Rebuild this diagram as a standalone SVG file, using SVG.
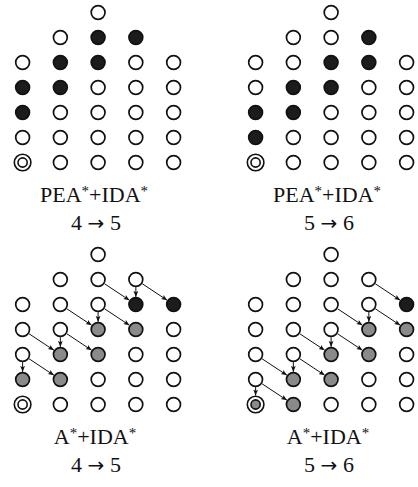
<svg xmlns="http://www.w3.org/2000/svg" width="418" height="487" viewBox="0 0 418 487">
<style>
circle{stroke:#111;stroke-width:1.7}
.w{fill:#fff}
.b{fill:#1c1c1c}
.g{fill:#8a8a8a}
.so{fill:#fff;stroke-width:1.6}
.si{fill:#fff;stroke-width:1.6}
.sig{fill:#8a8a8a;stroke-width:1.6}
.lbl{font-family:"Liberation Serif","Times New Roman",serif;font-size:22px;fill:#111}
.sup{font-size:15px}
.arr{font-family:"DejaVu Sans",sans-serif;font-size:20px}
#connectors line{stroke:#111;stroke-width:1;marker-end:url(#ah)}
</style>
<defs>
<marker id="ah" markerUnits="userSpaceOnUse" markerWidth="6" markerHeight="6" viewBox="0 0 6 6" refX="6" refY="3" orient="auto">
<path d="M0,0.6 L6,3 L0,5.4 L1.3,3 z" fill="#111"/>
</marker>
</defs>

<!-- Top-left: PEA*+IDA* 4->5 -->
<g id="pea45">
<g id="pea45-r0c2"><circle class="w" cx="98.1" cy="12.5" r="6.9"/></g>
<g id="pea45-r1c1"><circle class="w" cx="60.35" cy="37.5" r="6.9"/></g>
<g id="pea45-r1c2"><circle class="b" cx="98.1" cy="37.5" r="6.9"/></g>
<g id="pea45-r1c3"><circle class="b" cx="135.85" cy="37.5" r="6.9"/></g>
<g id="pea45-r2c0"><circle class="w" cx="22.6" cy="62.5" r="6.9"/></g>
<g id="pea45-r2c1"><circle class="b" cx="60.35" cy="62.5" r="6.9"/></g>
<g id="pea45-r2c2"><circle class="b" cx="98.1" cy="62.5" r="6.9"/></g>
<g id="pea45-r2c3"><circle class="w" cx="135.85" cy="62.5" r="6.9"/></g>
<g id="pea45-r2c4"><circle class="w" cx="173.6" cy="62.5" r="6.9"/></g>
<g id="pea45-r3c0"><circle class="b" cx="22.6" cy="87.5" r="6.9"/></g>
<g id="pea45-r3c1"><circle class="b" cx="60.35" cy="87.5" r="6.9"/></g>
<g id="pea45-r3c2"><circle class="w" cx="98.1" cy="87.5" r="6.9"/></g>
<g id="pea45-r3c3"><circle class="w" cx="135.85" cy="87.5" r="6.9"/></g>
<g id="pea45-r3c4"><circle class="w" cx="173.6" cy="87.5" r="6.9"/></g>
<g id="pea45-r4c0"><circle class="b" cx="22.6" cy="112.5" r="6.9"/></g>
<g id="pea45-r4c1"><circle class="w" cx="60.35" cy="112.5" r="6.9"/></g>
<g id="pea45-r4c2"><circle class="w" cx="98.1" cy="112.5" r="6.9"/></g>
<g id="pea45-r4c3"><circle class="w" cx="135.85" cy="112.5" r="6.9"/></g>
<g id="pea45-r4c4"><circle class="w" cx="173.6" cy="112.5" r="6.9"/></g>
<g id="pea45-r5c0"><circle class="w" cx="22.6" cy="137.5" r="6.9"/></g>
<g id="pea45-r5c1"><circle class="w" cx="60.35" cy="137.5" r="6.9"/></g>
<g id="pea45-r5c2"><circle class="w" cx="98.1" cy="137.5" r="6.9"/></g>
<g id="pea45-r5c3"><circle class="w" cx="135.85" cy="137.5" r="6.9"/></g>
<g id="pea45-r5c4"><circle class="w" cx="173.6" cy="137.5" r="6.9"/></g>
<g id="pea45-r6c0"><circle class="so" cx="22.6" cy="162.5" r="8.3"/><circle class="si" cx="22.6" cy="162.5" r="4.6"/></g>
<g id="pea45-r6c1"><circle class="w" cx="60.35" cy="162.5" r="6.9"/></g>
<g id="pea45-r6c2"><circle class="w" cx="98.1" cy="162.5" r="6.9"/></g>
<g id="pea45-r6c3"><circle class="w" cx="135.85" cy="162.5" r="6.9"/></g>
<g id="pea45-r6c4"><circle class="w" cx="173.6" cy="162.5" r="6.9"/></g>
<text class="lbl" x="94" y="202" text-anchor="middle">PEA<tspan class="sup" dy="-6">*</tspan><tspan dy="6">+IDA</tspan><tspan class="sup" dy="-6">*</tspan></text>
<text class="lbl" x="96" y="230" text-anchor="middle">4 <tspan class="arr">→</tspan> 5</text>
</g>

<!-- Top-right: PEA*+IDA* 5->6 -->
<g id="pea56">
<g id="pea56-r0c2"><circle class="w" cx="331.1" cy="12.5" r="6.9"/></g>
<g id="pea56-r1c1"><circle class="w" cx="293.35" cy="37.5" r="6.9"/></g>
<g id="pea56-r1c2"><circle class="w" cx="331.1" cy="37.5" r="6.9"/></g>
<g id="pea56-r1c3"><circle class="b" cx="368.85" cy="37.5" r="6.9"/></g>
<g id="pea56-r2c0"><circle class="w" cx="255.6" cy="62.5" r="6.9"/></g>
<g id="pea56-r2c1"><circle class="w" cx="293.35" cy="62.5" r="6.9"/></g>
<g id="pea56-r2c2"><circle class="b" cx="331.1" cy="62.5" r="6.9"/></g>
<g id="pea56-r2c3"><circle class="b" cx="368.85" cy="62.5" r="6.9"/></g>
<g id="pea56-r2c4"><circle class="w" cx="406.6" cy="62.5" r="6.9"/></g>
<g id="pea56-r3c0"><circle class="w" cx="255.6" cy="87.5" r="6.9"/></g>
<g id="pea56-r3c1"><circle class="b" cx="293.35" cy="87.5" r="6.9"/></g>
<g id="pea56-r3c2"><circle class="b" cx="331.1" cy="87.5" r="6.9"/></g>
<g id="pea56-r3c3"><circle class="w" cx="368.85" cy="87.5" r="6.9"/></g>
<g id="pea56-r3c4"><circle class="w" cx="406.6" cy="87.5" r="6.9"/></g>
<g id="pea56-r4c0"><circle class="b" cx="255.6" cy="112.5" r="6.9"/></g>
<g id="pea56-r4c1"><circle class="b" cx="293.35" cy="112.5" r="6.9"/></g>
<g id="pea56-r4c2"><circle class="w" cx="331.1" cy="112.5" r="6.9"/></g>
<g id="pea56-r4c3"><circle class="w" cx="368.85" cy="112.5" r="6.9"/></g>
<g id="pea56-r4c4"><circle class="w" cx="406.6" cy="112.5" r="6.9"/></g>
<g id="pea56-r5c0"><circle class="b" cx="255.6" cy="137.5" r="6.9"/></g>
<g id="pea56-r5c1"><circle class="w" cx="293.35" cy="137.5" r="6.9"/></g>
<g id="pea56-r5c2"><circle class="w" cx="331.1" cy="137.5" r="6.9"/></g>
<g id="pea56-r5c3"><circle class="w" cx="368.85" cy="137.5" r="6.9"/></g>
<g id="pea56-r5c4"><circle class="w" cx="406.6" cy="137.5" r="6.9"/></g>
<g id="pea56-r6c0"><circle class="so" cx="255.6" cy="162.5" r="8.3"/><circle class="si" cx="255.6" cy="162.5" r="4.6"/></g>
<g id="pea56-r6c1"><circle class="w" cx="293.35" cy="162.5" r="6.9"/></g>
<g id="pea56-r6c2"><circle class="w" cx="331.1" cy="162.5" r="6.9"/></g>
<g id="pea56-r6c3"><circle class="w" cx="368.85" cy="162.5" r="6.9"/></g>
<g id="pea56-r6c4"><circle class="w" cx="406.6" cy="162.5" r="6.9"/></g>
<text class="lbl" x="327" y="202" text-anchor="middle">PEA<tspan class="sup" dy="-6">*</tspan><tspan dy="6">+IDA</tspan><tspan class="sup" dy="-6">*</tspan></text>
<text class="lbl" x="329" y="230" text-anchor="middle">5 <tspan class="arr">→</tspan> 6</text>
</g>

<!-- Bottom-left: A*+IDA* 4->5 -->
<g id="astar45">
<g id="astar45-r0c2"><circle class="w" cx="98.1" cy="254.5" r="6.9"/></g>
<g id="astar45-r1c1"><circle class="w" cx="60.35" cy="279.5" r="6.9"/></g>
<g id="astar45-r1c2"><circle class="w" cx="98.1" cy="279.5" r="6.9"/></g>
<g id="astar45-r1c3"><circle class="w" cx="135.85" cy="279.5" r="6.9"/></g>
<g id="astar45-r2c0"><circle class="w" cx="22.6" cy="304.5" r="6.9"/></g>
<g id="astar45-r2c1"><circle class="w" cx="60.35" cy="304.5" r="6.9"/></g>
<g id="astar45-r2c2"><circle class="w" cx="98.1" cy="304.5" r="6.9"/></g>
<g id="astar45-r2c3"><circle class="b" cx="135.85" cy="304.5" r="6.9"/></g>
<g id="astar45-r2c4"><circle class="b" cx="173.6" cy="304.5" r="6.9"/></g>
<g id="astar45-r3c0"><circle class="w" cx="22.6" cy="329.5" r="6.9"/></g>
<g id="astar45-r3c1"><circle class="w" cx="60.35" cy="329.5" r="6.9"/></g>
<g id="astar45-r3c2"><circle class="g" cx="98.1" cy="329.5" r="6.9"/></g>
<g id="astar45-r3c3"><circle class="g" cx="135.85" cy="329.5" r="6.9"/></g>
<g id="astar45-r3c4"><circle class="w" cx="173.6" cy="329.5" r="6.9"/></g>
<g id="astar45-r4c0"><circle class="w" cx="22.6" cy="354.5" r="6.9"/></g>
<g id="astar45-r4c1"><circle class="g" cx="60.35" cy="354.5" r="6.9"/></g>
<g id="astar45-r4c2"><circle class="g" cx="98.1" cy="354.5" r="6.9"/></g>
<g id="astar45-r4c3"><circle class="w" cx="135.85" cy="354.5" r="6.9"/></g>
<g id="astar45-r4c4"><circle class="w" cx="173.6" cy="354.5" r="6.9"/></g>
<g id="astar45-r5c0"><circle class="g" cx="22.6" cy="379.5" r="6.9"/></g>
<g id="astar45-r5c1"><circle class="g" cx="60.35" cy="379.5" r="6.9"/></g>
<g id="astar45-r5c2"><circle class="w" cx="98.1" cy="379.5" r="6.9"/></g>
<g id="astar45-r5c3"><circle class="w" cx="135.85" cy="379.5" r="6.9"/></g>
<g id="astar45-r5c4"><circle class="w" cx="173.6" cy="379.5" r="6.9"/></g>
<g id="astar45-r6c0"><circle class="so" cx="22.6" cy="404.5" r="8.3"/><circle class="si" cx="22.6" cy="404.5" r="4.6"/></g>
<g id="astar45-r6c1"><circle class="w" cx="60.35" cy="404.5" r="6.9"/></g>
<g id="astar45-r6c2"><circle class="w" cx="98.1" cy="404.5" r="6.9"/></g>
<g id="astar45-r6c3"><circle class="w" cx="135.85" cy="404.5" r="6.9"/></g>
<g id="astar45-r6c4"><circle class="w" cx="173.6" cy="404.5" r="6.9"/></g>
<text class="lbl" x="95" y="444" text-anchor="middle">A<tspan class="sup" dy="-6">*</tspan><tspan dy="6">+IDA</tspan><tspan class="sup" dy="-6">*</tspan></text>
<text class="lbl" x="96" y="472" text-anchor="middle">4 <tspan class="arr">→</tspan> 5</text>
</g>

<!-- Bottom-right: A*+IDA* 5->6 -->
<g id="astar56">
<g id="astar56-r0c2"><circle class="w" cx="331.1" cy="254.5" r="6.9"/></g>
<g id="astar56-r1c1"><circle class="w" cx="293.35" cy="279.5" r="6.9"/></g>
<g id="astar56-r1c2"><circle class="w" cx="331.1" cy="279.5" r="6.9"/></g>
<g id="astar56-r1c3"><circle class="w" cx="368.85" cy="279.5" r="6.9"/></g>
<g id="astar56-r2c0"><circle class="w" cx="255.6" cy="304.5" r="6.9"/></g>
<g id="astar56-r2c1"><circle class="w" cx="293.35" cy="304.5" r="6.9"/></g>
<g id="astar56-r2c2"><circle class="w" cx="331.1" cy="304.5" r="6.9"/></g>
<g id="astar56-r2c3"><circle class="w" cx="368.85" cy="304.5" r="6.9"/></g>
<g id="astar56-r2c4"><circle class="b" cx="406.6" cy="304.5" r="6.9"/></g>
<g id="astar56-r3c0"><circle class="w" cx="255.6" cy="329.5" r="6.9"/></g>
<g id="astar56-r3c1"><circle class="w" cx="293.35" cy="329.5" r="6.9"/></g>
<g id="astar56-r3c2"><circle class="w" cx="331.1" cy="329.5" r="6.9"/></g>
<g id="astar56-r3c3"><circle class="g" cx="368.85" cy="329.5" r="6.9"/></g>
<g id="astar56-r3c4"><circle class="g" cx="406.6" cy="329.5" r="6.9"/></g>
<g id="astar56-r4c0"><circle class="w" cx="255.6" cy="354.5" r="6.9"/></g>
<g id="astar56-r4c1"><circle class="w" cx="293.35" cy="354.5" r="6.9"/></g>
<g id="astar56-r4c2"><circle class="g" cx="331.1" cy="354.5" r="6.9"/></g>
<g id="astar56-r4c3"><circle class="g" cx="368.85" cy="354.5" r="6.9"/></g>
<g id="astar56-r4c4"><circle class="w" cx="406.6" cy="354.5" r="6.9"/></g>
<g id="astar56-r5c0"><circle class="w" cx="255.6" cy="379.5" r="6.9"/></g>
<g id="astar56-r5c1"><circle class="g" cx="293.35" cy="379.5" r="6.9"/></g>
<g id="astar56-r5c2"><circle class="g" cx="331.1" cy="379.5" r="6.9"/></g>
<g id="astar56-r5c3"><circle class="w" cx="368.85" cy="379.5" r="6.9"/></g>
<g id="astar56-r5c4"><circle class="w" cx="406.6" cy="379.5" r="6.9"/></g>
<g id="astar56-r6c0"><circle class="so" cx="255.6" cy="404.5" r="8.3"/><circle class="sig" cx="255.6" cy="404.5" r="4.6"/></g>
<g id="astar56-r6c1"><circle class="g" cx="293.35" cy="404.5" r="6.9"/></g>
<g id="astar56-r6c2"><circle class="w" cx="331.1" cy="404.5" r="6.9"/></g>
<g id="astar56-r6c3"><circle class="w" cx="368.85" cy="404.5" r="6.9"/></g>
<g id="astar56-r6c4"><circle class="w" cx="406.6" cy="404.5" r="6.9"/></g>
<text class="lbl" x="328" y="444" text-anchor="middle">A<tspan class="sup" dy="-6">*</tspan><tspan dy="6">+IDA</tspan><tspan class="sup" dy="-6">*</tspan></text>
<text class="lbl" x="329" y="472" text-anchor="middle">5 <tspan class="arr">→</tspan> 6</text>
</g>

<g id="connectors">
<line x1="104.44" y1="283.7" x2="129.51" y2="300.3"/>
<line x1="135.85" y1="287.1" x2="135.85" y2="296.9"/>
<line x1="142.19" y1="283.7" x2="167.26" y2="300.3"/>
<line x1="66.69" y1="308.7" x2="91.76" y2="325.3"/>
<line x1="98.1" y1="312.1" x2="98.1" y2="321.9"/>
<line x1="104.44" y1="308.7" x2="129.51" y2="325.3"/>
<line x1="28.94" y1="333.7" x2="54.01" y2="350.3"/>
<line x1="60.35" y1="337.1" x2="60.35" y2="346.9"/>
<line x1="66.69" y1="333.7" x2="91.76" y2="350.3"/>
<line x1="22.6" y1="362.1" x2="22.6" y2="371.9"/>
<line x1="28.94" y1="358.7" x2="54.01" y2="375.3"/>

<line x1="375.19" y1="283.7" x2="400.26" y2="300.3"/>
<line x1="337.44" y1="308.7" x2="362.51" y2="325.3"/>
<line x1="368.85" y1="312.1" x2="368.85" y2="321.9"/>
<line x1="375.19" y1="308.7" x2="400.26" y2="325.3"/>
<line x1="299.69" y1="333.7" x2="324.76" y2="350.3"/>
<line x1="331.1" y1="337.1" x2="331.1" y2="346.9"/>
<line x1="337.44" y1="333.7" x2="362.51" y2="350.3"/>
<line x1="261.94" y1="358.7" x2="287.01" y2="375.3"/>
<line x1="293.35" y1="362.1" x2="293.35" y2="371.9"/>
<line x1="299.69" y1="358.7" x2="324.76" y2="375.3"/>
<line x1="255.6" y1="387.1" x2="255.6" y2="395.6"/>
<line x1="261.94" y1="383.7" x2="287.01" y2="400.3"/>
</g>
</svg>
